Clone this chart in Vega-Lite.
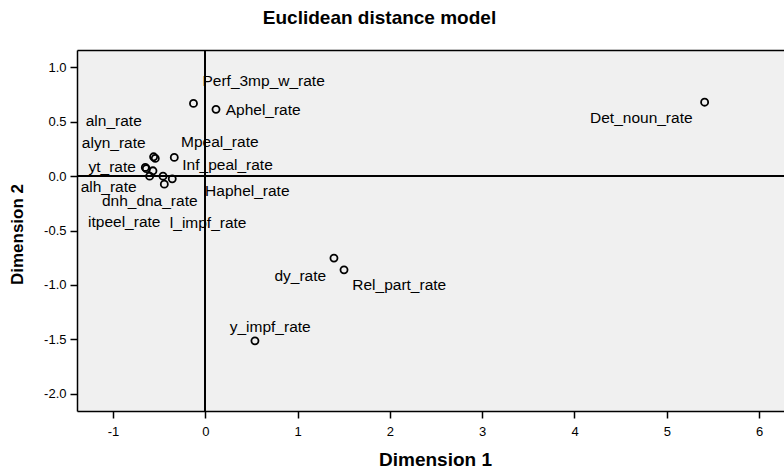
{
  "$schema": "https://vega.github.io/schema/vega-lite/v6.json",
  "autosize": "none",
  "width": 707,
  "height": 361,
  "padding": {"left": 77, "top": 50, "right": 0, "bottom": 59},
  "background": "white",
  "title": {
    "text": "Euclidean distance model",
    "font": "Liberation Sans",
    "fontSize": 19,
    "fontWeight": "bold",
    "color": "#000000",
    "anchor": "middle",
    "dx": -51,
    "offset": 21
  },
  "config": {
    "locale": {
      "number": {"decimal": ".", "thousands": ",", "grouping": [3], "currency": ["$", ""], "minus": "-"}
    },
    "view": {"stroke": null, "fill": "#f0f0f0"},
    "axis": {
      "grid": false,
      "domainColor": "#000000",
      "domainWidth": 1.5,
      "tickColor": "#000000",
      "tickWidth": 1.5,
      "tickSize": 7,
      "labelFont": "Liberation Sans",
      "labelFontSize": 13,
      "labelColor": "#000000",
      "titleFont": "Liberation Sans",
      "titleFontSize": 19,
      "titleFontWeight": "bold",
      "titleColor": "#000000"
    }
  },
  "data": {
    "values": [
      {"name": "Det_noun_rate", "dim1": 5.41, "dim2": 0.68, "lx": 4.724, "ly": 0.531},
      {"name": "Perf_3mp_w_rate", "dim1": -0.128, "dim2": 0.669, "lx": 0.632, "ly": 0.877},
      {"name": "Aphel_rate", "dim1": 0.116, "dim2": 0.614, "lx": 0.627, "ly": 0.607},
      {"name": "dy_rate", "dim1": 1.394, "dim2": -0.754, "lx": 1.029, "ly": -0.923},
      {"name": "Rel_part_rate", "dim1": 1.503, "dim2": -0.862, "lx": 2.101, "ly": -1.003},
      {"name": "y_impf_rate", "dim1": 0.538, "dim2": -1.515, "lx": 0.703, "ly": -1.386},
      {"name": "aln_rate", "dim1": -0.542, "dim2": 0.163, "lx": -0.992, "ly": 0.509},
      {"name": "alyn_rate", "dim1": -0.56, "dim2": 0.178, "lx": -0.992, "ly": 0.306},
      {"name": "yt_rate", "dim1": -0.65, "dim2": 0.08, "lx": -1.009, "ly": 0.08},
      {"name": "alh_rate", "dim1": -0.639, "dim2": 0.069, "lx": -1.047, "ly": -0.104},
      {"name": "dnh_dna_rate", "dim1": -0.603, "dim2": 0.0, "lx": -0.602, "ly": -0.227},
      {"name": "itpeel_rate", "dim1": -0.444, "dim2": -0.074, "lx": -0.878, "ly": -0.42},
      {"name": "Mpeal_rate", "dim1": -0.336, "dim2": 0.172, "lx": 0.157, "ly": 0.31},
      {"name": "Inf_peal_rate", "dim1": -0.567, "dim2": 0.049, "lx": 0.241, "ly": 0.101},
      {"name": "Haphel_rate", "dim1": -0.458, "dim2": 0.0, "lx": 0.455, "ly": -0.138},
      {"name": "l_impf_rate", "dim1": -0.358, "dim2": -0.025, "lx": 0.031, "ly": -0.435}
    ]
  },
  "layer": [
    {
      "mark": {"type": "rule", "color": "#000000", "strokeWidth": 1.3},
      "encoding": {"x": {"datum": 0, "type": "quantitative", "axis": null}}
    },
    {
      "mark": {"type": "rule", "color": "#000000", "strokeWidth": 1.3},
      "encoding": {"y": {"datum": 0, "type": "quantitative", "axis": null}}
    },
    {
      "mark": {"type": "point", "shape": "circle", "filled": false, "stroke": "#000000", "strokeWidth": 1.8, "size": 50, "opacity": 1},
      "encoding": {
        "x": {
          "field": "dim1", "type": "quantitative",
          "scale": {"domain": [-1.39, 6.27], "nice": false, "zero": false},
          "axis": {
            "orient": "bottom",
            "title": "Dimension 1",
            "values": [-1, 0, 1, 2, 3, 4, 5, 6],
            "format": "d",
            "labelPadding": 7,
            "titleX": 358,
            "titleY": 48,
            "titleAlign": "center",
            "titleBaseline": "middle"
          }
        },
        "y": {
          "field": "dim2", "type": "quantitative",
          "scale": {"domain": [-2.16, 1.16], "nice": false, "zero": false},
          "axis": {
            "orient": "left",
            "title": "Dimension 2",
            "values": [-2, -1.5, -1, -0.5, 0, 0.5, 1],
            "format": ".1f",
            "labelPadding": 4,
            "titleFontSize": 17,
            "titleX": -60,
            "titleY": 184,
            "titleAngle": -90,
            "titleAlign": "center",
            "titleBaseline": "middle"
          }
        }
      }
    },
    {
      "mark": {"type": "text", "font": "Liberation Sans", "fontSize": 15.5, "color": "#000000", "align": "center", "baseline": "middle"},
      "encoding": {
        "x": {
          "field": "lx", "type": "quantitative",
          "axis": {"orient": "top", "title": null, "labels": false, "ticks": false, "domain": true}
        },
        "y": {"field": "ly", "type": "quantitative", "axis": null},
        "text": {"field": "name"}
      }
    }
  ],
  "resolve": {"axis": {"x": "independent", "y": "independent"}}
}
